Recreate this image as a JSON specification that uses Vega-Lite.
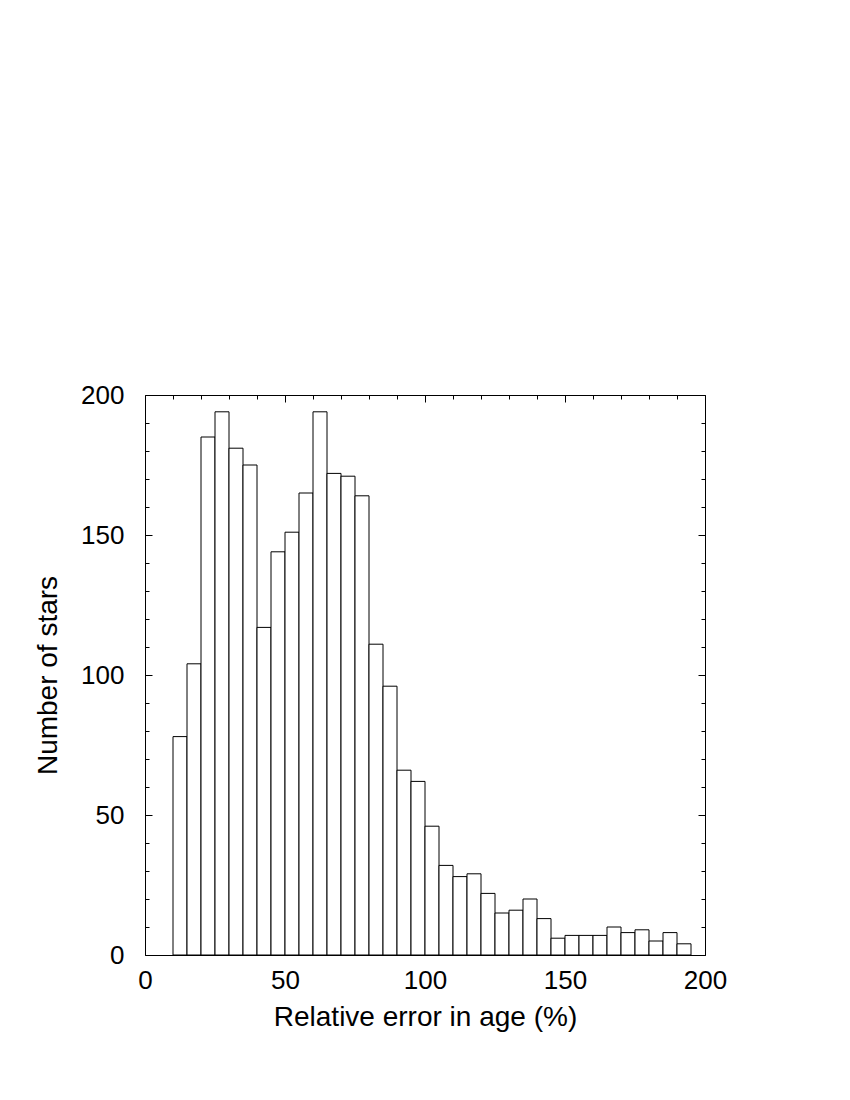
{
  "$schema": "https://vega.github.io/schema/vega-lite/v6.json",
  "autosize": "none",
  "padding": {"left": 145, "top": 395, "right": 145, "bottom": 145},
  "width": 560,
  "height": 560,
  "background": "white",
  "config": {
    "view": {"stroke": "black", "strokeWidth": 1},
    "axis": {"grid": false, "labelFont": "Liberation Sans", "titleFont": "Liberation Sans", "labelFontSize": 26, "titleFontSize": 28, "labelColor": "black", "titleColor": "black", "titleFontWeight": "normal", "tickColor": "black", "domain": false}
  },
  "data": {
    "values": [
      {"bin_start": 10, "bin_end": 15, "count": 78},
      {"bin_start": 15, "bin_end": 20, "count": 104},
      {"bin_start": 20, "bin_end": 25, "count": 185},
      {"bin_start": 25, "bin_end": 30, "count": 194},
      {"bin_start": 30, "bin_end": 35, "count": 181},
      {"bin_start": 35, "bin_end": 40, "count": 175},
      {"bin_start": 40, "bin_end": 45, "count": 117},
      {"bin_start": 45, "bin_end": 50, "count": 144},
      {"bin_start": 50, "bin_end": 55, "count": 151},
      {"bin_start": 55, "bin_end": 60, "count": 165},
      {"bin_start": 60, "bin_end": 65, "count": 194},
      {"bin_start": 65, "bin_end": 70, "count": 172},
      {"bin_start": 70, "bin_end": 75, "count": 171},
      {"bin_start": 75, "bin_end": 80, "count": 164},
      {"bin_start": 80, "bin_end": 85, "count": 111},
      {"bin_start": 85, "bin_end": 90, "count": 96},
      {"bin_start": 90, "bin_end": 95, "count": 66},
      {"bin_start": 95, "bin_end": 100, "count": 62},
      {"bin_start": 100, "bin_end": 105, "count": 46},
      {"bin_start": 105, "bin_end": 110, "count": 32},
      {"bin_start": 110, "bin_end": 115, "count": 28},
      {"bin_start": 115, "bin_end": 120, "count": 29},
      {"bin_start": 120, "bin_end": 125, "count": 22},
      {"bin_start": 125, "bin_end": 130, "count": 15},
      {"bin_start": 130, "bin_end": 135, "count": 16},
      {"bin_start": 135, "bin_end": 140, "count": 20},
      {"bin_start": 140, "bin_end": 145, "count": 13},
      {"bin_start": 145, "bin_end": 150, "count": 6},
      {"bin_start": 150, "bin_end": 155, "count": 7},
      {"bin_start": 155, "bin_end": 160, "count": 7},
      {"bin_start": 160, "bin_end": 165, "count": 7},
      {"bin_start": 165, "bin_end": 170, "count": 10},
      {"bin_start": 170, "bin_end": 175, "count": 8},
      {"bin_start": 175, "bin_end": 180, "count": 9},
      {"bin_start": 180, "bin_end": 185, "count": 5},
      {"bin_start": 185, "bin_end": 190, "count": 8},
      {"bin_start": 190, "bin_end": 195, "count": 4}
    ]
  },
  "resolve": {"axis": {"x": "independent", "y": "independent"}},
  "layer": [
    {
      "mark": {"type": "rect", "fill": "white", "stroke": "black", "strokeWidth": 1},
      "encoding": {
        "x": {"field": "bin_start", "type": "quantitative", "scale": {"domain": [0, 200], "nice": false, "zero": false},
              "axis": {"orient": "bottom", "values": [0, 50, 100, 150, 200], "ticks": false, "labelPadding": 33, "labelBaseline": "alphabetic", "labelFlush": false, "labelOverlap": false,
                       "title": "Relative error in age (%)", "titleX": 280, "titleY": 70, "titleBaseline": "alphabetic", "titleAnchor": null, "titleAlign": "center"}},
        "x2": {"field": "bin_end"},
        "y": {"field": "count", "type": "quantitative", "scale": {"domain": [0, 200], "nice": false},
              "axis": {"orient": "left", "values": [0, 50, 100, 150, 200], "ticks": false, "labelPadding": 21, "labelBaseline": "middle", "labelFlush": false, "labelOverlap": false,
                       "title": "Number of stars", "titleX": -89, "titleY": 280, "titleAngle": -90, "titleBaseline": "alphabetic", "titleAlign": "center"}}
      }
    },
    {
      "mark": {"type": "point", "opacity": 0},
      "encoding": {
        "x": {"field": "bin_start", "type": "quantitative", "axis": {"orient": "bottom", "values": [0, 50, 100, 150, 200], "labels": false, "tickSize": -7, "title": null}},
        "y": {"field": "count", "type": "quantitative", "axis": {"orient": "left", "values": [0, 50, 100, 150, 200], "labels": false, "tickSize": -7, "title": null}}
      }
    },
    {
      "mark": {"type": "point", "opacity": 0},
      "encoding": {
        "x": {"field": "bin_start", "type": "quantitative", "axis": {"orient": "bottom", "values": [10, 20, 30, 40, 60, 70, 80, 90, 110, 120, 130, 140, 160, 170, 180, 190], "labels": false, "tickSize": -4, "title": null}},
        "y": {"field": "count", "type": "quantitative", "axis": {"orient": "left", "values": [10, 20, 30, 40, 60, 70, 80, 90, 110, 120, 130, 140, 160, 170, 180, 190], "labels": false, "tickSize": -4, "title": null}}
      }
    },
    {
      "mark": {"type": "point", "opacity": 0},
      "encoding": {
        "x": {"field": "bin_start", "type": "quantitative", "axis": {"orient": "top", "values": [0, 50, 100, 150, 200], "labels": false, "tickSize": -7, "title": null}},
        "y": {"field": "count", "type": "quantitative", "axis": {"orient": "right", "values": [0, 50, 100, 150, 200], "labels": false, "tickSize": -7, "title": null}}
      }
    },
    {
      "mark": {"type": "point", "opacity": 0},
      "encoding": {
        "x": {"field": "bin_start", "type": "quantitative", "axis": {"orient": "top", "values": [10, 20, 30, 40, 60, 70, 80, 90, 110, 120, 130, 140, 160, 170, 180, 190], "labels": false, "tickSize": -4, "title": null}},
        "y": {"field": "count", "type": "quantitative", "axis": {"orient": "right", "values": [10, 20, 30, 40, 60, 70, 80, 90, 110, 120, 130, 140, 160, 170, 180, 190], "labels": false, "tickSize": -4, "title": null}}
      }
    }
  ]
}
